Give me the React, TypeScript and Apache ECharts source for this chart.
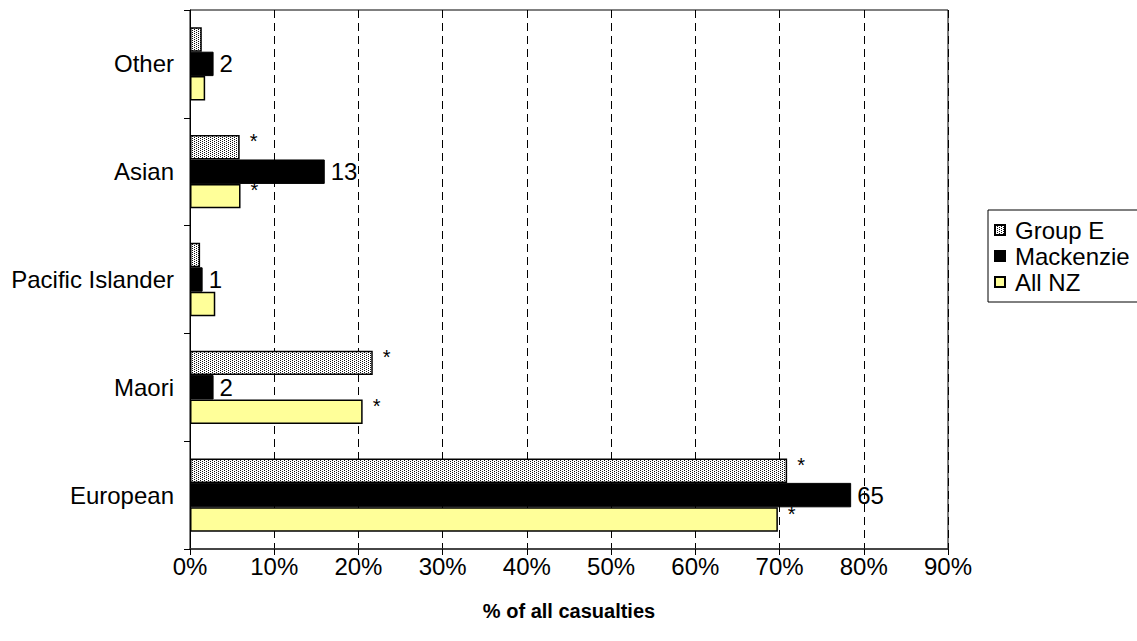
import React, { useEffect, useRef } from "react";
import * as echarts from "echarts";

const categories = ["European", "Maori", "Pacific Islander", "Asian", "Other"];
const groupE = [70.9, 21.7, 1.2, 5.9, 1.4];
const mackenzie = [78.5, 2.8, 1.5, 16.0, 2.8];
const allNZ = [69.8, 20.5, 3.0, 6.0, 1.8];
const mackenzieCounts = ["65", "2", "1", "13", "2"];
const groupEMarks = ["*", "*", "", "*", ""];
const allNZMarks = ["*", "*", "", "*", ""];
const xTicks = [0, 10, 20, 30, 40, 50, 60, 70, 80, 90];

const FONT = "'Liberation Sans', Arial, sans-serif";

function makePattern(): any {
  const c = document.createElement("canvas");
  c.width = 4;
  c.height = 4;
  const ctx = c.getContext("2d")!;
  ctx.fillStyle = "#ffffff";
  ctx.fillRect(0, 0, 4, 4);
  ctx.fillStyle = "#111111";
  ctx.fillRect(0, 0, 1, 1);
  ctx.fillRect(2, 1, 1, 1);
  ctx.fillRect(0, 2, 1, 1);
  ctx.fillRect(2, 3, 1, 1);
  return { image: c, repeat: "repeat" };
}

export default function App() {
  const ref = useRef<HTMLDivElement>(null);
  useEffect(() => {
    document.body.style.margin = "0";
    const chart = echarts.init(ref.current!, null, { renderer: "svg" });
    const pattern = makePattern();
    const markLabel = (marks: string[]) => ({
      show: true,
      position: "right",
      distance: 10,
      offset: [0, -6],
      fontSize: 20,
      fontFamily: FONT,
      color: "#000",
      formatter: (p: any) => marks[p.dataIndex],
    });
    chart.setOption({
      animation: false,
      backgroundColor: "#fff",
      textStyle: { fontFamily: FONT },
      grid: {
        left: 190,
        top: 10,
        right: 189,
        bottom: 92,
        show: true,
        borderColor: "#000",
        borderWidth: 1,
        backgroundColor: "transparent",
      },
      legend: {
        orient: "vertical",
        left: 988,
        top: 210,
        data: ["Group E", "Mackenzie", "All NZ"],
        icon: "rect",
        itemWidth: 10,
        itemHeight: 10,
        itemGap: 2,
        padding: [8, 30, 8, 6],
        borderColor: "#000",
        borderWidth: 1,
        textStyle: { fontSize: 24, lineHeight: 24, color: "#000", fontFamily: FONT, padding: [0, 0, 0, 5] },
      },
      xAxis: {
        type: "value",
        min: 0,
        max: 90,
        interval: 10,
        name: "% of all casualties",
        nameLocation: "middle",
        nameGap: 52,
        nameTextStyle: { fontSize: 20, fontWeight: "bold", color: "#000", fontFamily: FONT },
        axisLine: { show: true, lineStyle: { color: "#333", width: 1.5 } },
        axisTick: { show: true, length: 6, lineStyle: { color: "#000" } },
        axisLabel: {
          fontSize: 24,
          color: "#000",
          margin: 5,
          fontFamily: FONT,
          formatter: (v: number) => (xTicks.includes(v) ? v + "%" : ""),
        },
        splitLine: { show: true, lineStyle: { color: "#000", type: [8, 5], width: 1 } },
      },
      yAxis: {
        type: "category",
        data: categories,
        axisLine: { show: true, lineStyle: { color: "#000", width: 1 } },
        axisTick: { show: true, length: 6, lineStyle: { color: "#000" } },
        axisLabel: { fontSize: 24, color: "#000", margin: 16, fontFamily: FONT },
        splitLine: { show: false },
      },
      series: [
        {
          name: "Group E",
          type: "bar",
          data: groupE,
          barGap: "0%",
          barCategoryGap: "32%",
          itemStyle: { color: pattern, borderColor: "#000", borderWidth: 1.5 },
          label: markLabel(groupEMarks),
        },
        {
          name: "Mackenzie",
          type: "bar",
          data: mackenzie,
          barGap: "0%",
          barCategoryGap: "32%",
          itemStyle: { color: "#000", borderColor: "#000", borderWidth: 1 },
          label: {
            show: true,
            position: "right",
            distance: 6,
            fontSize: 24,
            fontFamily: FONT,
            color: "#000",
            formatter: (p: any) => mackenzieCounts[p.dataIndex],
          },
        },
        {
          name: "All NZ",
          type: "bar",
          data: allNZ,
          barGap: "0%",
          barCategoryGap: "32%",
          itemStyle: { color: "#ffff99", borderColor: "#000", borderWidth: 1.5 },
          label: markLabel(allNZMarks),
        },
      ],
    });
    return () => chart.dispose();
  }, []);
  return <div ref={ref} style={{ width: 1137, height: 641 }} />;
}
